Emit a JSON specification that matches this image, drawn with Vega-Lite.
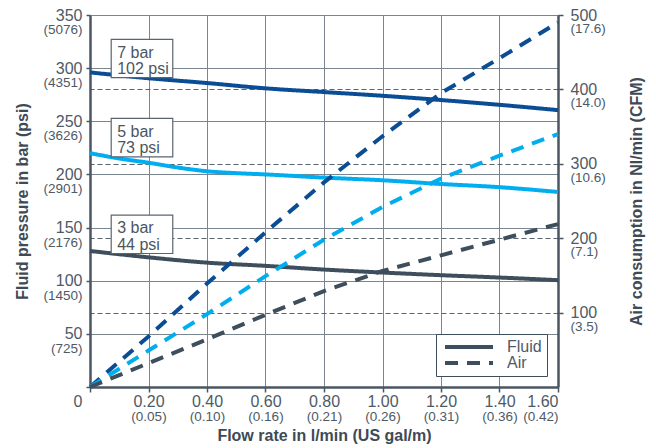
{
  "$schema": "https://vega.github.io/schema/vega-lite/v6.json",
  "width": 468,
  "height": 372,
  "autosize": {"type": "none"},
  "padding": {"left": 90, "top": 15, "right": 98, "bottom": 61},
  "config": {
    "view": {"stroke": null},
    "font": "Liberation Sans",
    "axis": {
      "labelFont": "Liberation Sans",
      "labelColor": "#4e5a66",
      "titleFont": "Liberation Sans",
      "titleColor": "#3e4a56",
      "titleFontWeight": "bold",
      "titleFontSize": 16,
      "domainColor": "#4a5662",
      "tickColor": "#4a5662",
      "gridColor": "#7b858f",
      "gridWidth": 1,
      "labelFontSize": 16
    }
  },
  "datasets": {
    "fluid": [
      {"series": "7 bar", "kind": "Fluid", "flow": 0, "pressure": 296},
      {"series": "7 bar", "kind": "Fluid", "flow": 0.2, "pressure": 290.5},
      {"series": "7 bar", "kind": "Fluid", "flow": 0.4, "pressure": 286},
      {"series": "7 bar", "kind": "Fluid", "flow": 0.6, "pressure": 281},
      {"series": "7 bar", "kind": "Fluid", "flow": 0.8, "pressure": 277.5},
      {"series": "7 bar", "kind": "Fluid", "flow": 1.0, "pressure": 274},
      {"series": "7 bar", "kind": "Fluid", "flow": 1.2, "pressure": 270},
      {"series": "7 bar", "kind": "Fluid", "flow": 1.4, "pressure": 265.5},
      {"series": "7 bar", "kind": "Fluid", "flow": 1.6, "pressure": 260.5},
      {"series": "5 bar", "kind": "Fluid", "flow": 0, "pressure": 220},
      {"series": "5 bar", "kind": "Fluid", "flow": 0.1, "pressure": 215},
      {"series": "5 bar", "kind": "Fluid", "flow": 0.2, "pressure": 211},
      {"series": "5 bar", "kind": "Fluid", "flow": 0.3, "pressure": 206.5},
      {"series": "5 bar", "kind": "Fluid", "flow": 0.4, "pressure": 203},
      {"series": "5 bar", "kind": "Fluid", "flow": 0.5, "pressure": 201.2},
      {"series": "5 bar", "kind": "Fluid", "flow": 0.6, "pressure": 200},
      {"series": "5 bar", "kind": "Fluid", "flow": 0.8, "pressure": 197},
      {"series": "5 bar", "kind": "Fluid", "flow": 1.0, "pressure": 194.5},
      {"series": "5 bar", "kind": "Fluid", "flow": 1.2, "pressure": 191},
      {"series": "5 bar", "kind": "Fluid", "flow": 1.4, "pressure": 188},
      {"series": "5 bar", "kind": "Fluid", "flow": 1.6, "pressure": 183.5},
      {"series": "3 bar", "kind": "Fluid", "flow": 0, "pressure": 128},
      {"series": "3 bar", "kind": "Fluid", "flow": 0.2, "pressure": 122},
      {"series": "3 bar", "kind": "Fluid", "flow": 0.4, "pressure": 117},
      {"series": "3 bar", "kind": "Fluid", "flow": 0.6, "pressure": 114},
      {"series": "3 bar", "kind": "Fluid", "flow": 0.8, "pressure": 110.5},
      {"series": "3 bar", "kind": "Fluid", "flow": 1.0, "pressure": 107.7},
      {"series": "3 bar", "kind": "Fluid", "flow": 1.2, "pressure": 105.2},
      {"series": "3 bar", "kind": "Fluid", "flow": 1.4, "pressure": 103},
      {"series": "3 bar", "kind": "Fluid", "flow": 1.6, "pressure": 100.5}
    ],
    "air": [
      {"series": "7 bar", "kind": "Air", "flow": 0, "air": 0},
      {"series": "7 bar", "kind": "Air", "flow": 0.2, "air": 68},
      {"series": "7 bar", "kind": "Air", "flow": 0.4, "air": 139},
      {"series": "7 bar", "kind": "Air", "flow": 0.6, "air": 208},
      {"series": "7 bar", "kind": "Air", "flow": 0.8, "air": 275},
      {"series": "7 bar", "kind": "Air", "flow": 1.0, "air": 337},
      {"series": "7 bar", "kind": "Air", "flow": 1.2, "air": 395},
      {"series": "7 bar", "kind": "Air", "flow": 1.4, "air": 442},
      {"series": "7 bar", "kind": "Air", "flow": 1.6, "air": 490},
      {"series": "5 bar", "kind": "Air", "flow": 0, "air": 0},
      {"series": "5 bar", "kind": "Air", "flow": 0.2, "air": 49},
      {"series": "5 bar", "kind": "Air", "flow": 0.4, "air": 98},
      {"series": "5 bar", "kind": "Air", "flow": 0.6, "air": 149},
      {"series": "5 bar", "kind": "Air", "flow": 0.8, "air": 198},
      {"series": "5 bar", "kind": "Air", "flow": 1.0, "air": 242},
      {"series": "5 bar", "kind": "Air", "flow": 1.2, "air": 280},
      {"series": "5 bar", "kind": "Air", "flow": 1.4, "air": 311},
      {"series": "5 bar", "kind": "Air", "flow": 1.6, "air": 340},
      {"series": "3 bar", "kind": "Air", "flow": 0, "air": 0},
      {"series": "3 bar", "kind": "Air", "flow": 0.2, "air": 32},
      {"series": "3 bar", "kind": "Air", "flow": 0.4, "air": 64},
      {"series": "3 bar", "kind": "Air", "flow": 0.6, "air": 97},
      {"series": "3 bar", "kind": "Air", "flow": 0.8, "air": 129},
      {"series": "3 bar", "kind": "Air", "flow": 1.0, "air": 156},
      {"series": "3 bar", "kind": "Air", "flow": 1.2, "air": 177},
      {"series": "3 bar", "kind": "Air", "flow": 1.4, "air": 198},
      {"series": "3 bar", "kind": "Air", "flow": 1.6, "air": 219}
    ],
    "notes": [
      {"label": "7 bar\n102 psi", "x1": 0.0725, "x2": 0.283, "y1": 291, "y2": 327, "tx": 0.093, "ty": 314.6},
      {"label": "5 bar\n73 psi", "x1": 0.0725, "x2": 0.283, "y1": 216.6, "y2": 252.7, "tx": 0.093, "ty": 240.2},
      {"label": "3 bar\n44 psi", "x1": 0.0725, "x2": 0.283, "y1": 125.6, "y2": 161.7, "tx": 0.093, "ty": 149.2}
    ]
  },
  "layer": [
    {
      "data": {"name": "fluid"},
      "mark": {"type": "line", "strokeWidth": 4, "interpolate": "monotone"},
      "encoding": {
        "x": {
          "field": "flow", "type": "quantitative",
          "scale": {"domain": [0, 1.6], "nice": false, "zero": false},
          "axis": {
            "orient": "bottom",
            "values": [0, 0.2, 0.4, 0.6, 0.8, 1.0, 1.2, 1.4, 1.6],
            "labelExpr": "datum.value == 0 ? '' : format(datum.value, '.2f')",
            "title": null, "grid": true, "tickSize": 5, "tickWidth": 1.5,
            "labelPadding": 1, "domainWidth": 2.5, "labelFontSize": 16
          }
        },
        "y": {
          "field": "pressure", "type": "quantitative",
          "scale": {"domain": [0, 350], "nice": false},
          "axis": {
            "orient": "left",
            "values": [0, 50, 100, 150, 200, 250, 300, 350],
            "labelExpr": "datum.value == 0 ? '' : datum.label",
            "title": null, "grid": true, "tickSize": 4, "tickWidth": 1.5,
            "labelPadding": 4, "domainWidth": 2.5, "labelFontSize": 16
          }
        },
        "color": {
          "field": "series", "type": "nominal",
          "scale": {"domain": ["3 bar", "5 bar", "7 bar"], "range": ["#3e4e5c", "#00aeef", "#0a4d94"]},
          "legend": null
        },
        "strokeDash": {
          "field": "kind", "type": "nominal",
          "scale": {"domain": ["Fluid", "Air"], "range": [[1, 0], [13, 9]]},
          "legend": {
            "orient": "bottom-right", "offset": 11, "title": null, "padding": 5,
            "strokeColor": "#3e4e5c", "fillColor": "#ffffff",
            "symbolType": "M-1,0H11", "symbolSize": 64, "symbolStrokeWidth": 4,
            "symbolStrokeColor": "#3e4e5c", "labelFontSize": 16, "labelColor": "#4e5a66",
            "labelFont": "Liberation Sans", "labelOffset": 50, "rowPadding": 0
          }
        }
      }
    },
    {
      "data": {"name": "air"},
      "mark": {"type": "line", "strokeWidth": 4},
      "encoding": {
        "x": {"field": "flow", "type": "quantitative", "scale": {"domain": [0, 1.6], "nice": false, "zero": false}, "axis": null},
        "y": {
          "field": "air", "type": "quantitative",
          "scale": {"domain": [0, 500], "nice": false},
          "axis": {
            "orient": "right",
            "values": [100, 200, 300, 400, 500],
            "title": null, "grid": false, "tickSize": 5, "tickWidth": 1.5,
            "labelPadding": 7, "domainWidth": 2.5, "labelFontSize": 16
          }
        },
        "color": {"field": "series", "type": "nominal", "legend": null},
        "strokeDash": {"field": "kind", "type": "nominal"}
      }
    },
    {
      "data": {"name": "fluid"},
      "mark": {"type": "point", "opacity": 0},
      "encoding": {
        "x": {
          "field": "flow", "type": "quantitative",
          "scale": {"domain": [0, 1.6], "nice": false, "zero": false},
          "axis": {
            "orient": "bottom",
            "values": [0.2, 0.4, 0.6, 0.8, 1.0, 1.2, 1.4, 1.6],
            "labelExpr": "['', '(0.05)', '(0.10)', '(0.16)', '(0.21)', '(0.26)', '(0.31)', '(0.36)', '(0.42)'][round(datum.value * 5)]",
            "domain": false, "ticks": false, "tickSize": 0, "grid": false,
            "labelPadding": 22, "labelFontSize": 13.5,
            "title": "Flow rate in l/min (US gal/m)", "titlePadding": 5
          }
        },
        "y": {
          "field": "pressure", "type": "quantitative",
          "scale": {"domain": [0, 350], "nice": false},
          "axis": {
            "orient": "left",
            "values": [0, 50, 100, 150, 200, 250, 300, 350],
            "labelExpr": "['0', '(725)', '(1450)', '(2176)', '(2901)', '(3626)', '(4351)', '(5076)'][round(datum.value / 50)]",
            "labelFontSize": {"condition": {"test": "datum.value == 0", "value": 16}, "value": 13.5},
            "domain": false, "ticks": false, "tickSize": 0, "grid": false,
            "labelPadding": 8, "labelOffset": 14.5,
            "title": "Fluid pressure in bar (psi)", "titlePadding": 12
          }
        }
      }
    },
    {
      "data": {"name": "air"},
      "mark": {"type": "point", "opacity": 0},
      "encoding": {
        "x": {"field": "flow", "type": "quantitative", "scale": {"domain": [0, 1.6], "nice": false, "zero": false}, "axis": null},
        "y": {
          "field": "air", "type": "quantitative",
          "scale": {"domain": [0, 500], "nice": false},
          "axis": {
            "orient": "right",
            "values": [100, 200, 300, 400, 500],
            "labelExpr": "['', '(3.5)', '(7.1)', '(10.6)', '(14.0)', '(17.6)'][round(datum.value / 100)]",
            "domain": false, "ticks": false, "tickSize": 0,
            "grid": true, "gridDash": [5, 3], "gridColor": "#59636d",
            "gridOpacity": {"condition": {"test": "datum.value >= 500", "value": 0}, "value": 1},
            "labelPadding": 12, "labelOffset": 13.5, "labelFontSize": 13.5,
            "title": "Air consumption in Nl/min (CFM)", "titleAngle": 270, "titleBaseline": "top", "titlePadding": 23
          }
        }
      }
    },
    {
      "data": {"name": "notes"},
      "mark": {"type": "rect", "fill": "#ffffff", "stroke": "#5a6570", "strokeWidth": 1.2},
      "encoding": {
        "x": {"field": "x1", "type": "quantitative", "scale": {"domain": [0, 1.6], "nice": false, "zero": false}, "axis": null},
        "x2": {"field": "x2"},
        "y": {"field": "y1", "type": "quantitative", "scale": {"domain": [0, 350], "nice": false}, "axis": null},
        "y2": {"field": "y2"}
      }
    },
    {
      "data": {"name": "notes"},
      "mark": {"type": "text", "align": "left", "baseline": "middle", "fontSize": 16, "lineBreak": "\n", "lineHeight": 16.6, "color": "#4a5662", "font": "Liberation Sans"},
      "encoding": {
        "x": {"field": "tx", "type": "quantitative", "scale": {"domain": [0, 1.6], "nice": false, "zero": false}, "axis": null},
        "y": {"field": "ty", "type": "quantitative", "scale": {"domain": [0, 350], "nice": false}, "axis": null},
        "text": {"field": "label"}
      }
    }
  ],
  "resolve": {"scale": {"y": "independent"}, "axis": {"x": "independent", "y": "independent"}}
}
